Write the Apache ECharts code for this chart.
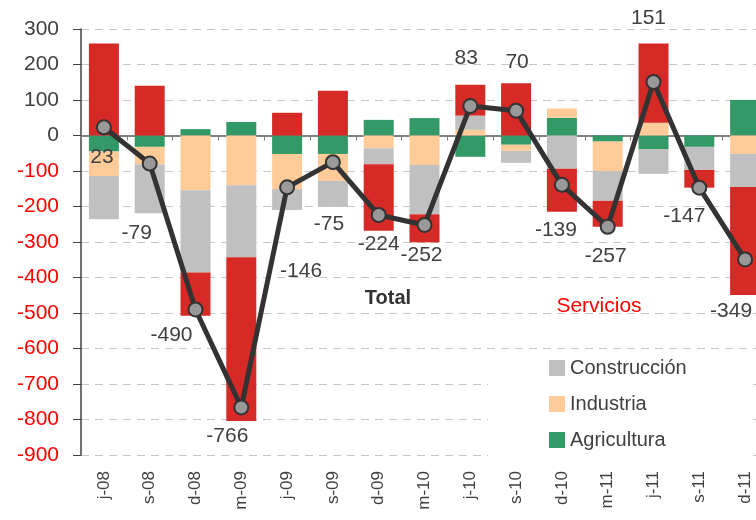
<!DOCTYPE html>
<html>
<head>
<meta charset="utf-8">
<script src="https://cdn.jsdelivr.net/npm/echarts@6/dist/echarts.min.js"></script>
<style>
  html, body { margin: 0; padding: 0; background: #fff; }
  #chart { width: 756px; height: 520px; }
</style>
</head>
<body>
<div id="chart"></div>
<script>
// categorias (trimestres)
var categories = ['j-08', 's-08', 'd-08', 'm-09', 'j-09', 's-09', 'd-09', 'm-10', 'j-10', 's-10', 'd-10', 'm-11', 'j-11', 's-11', 'd-11'];

// variacion por sector
var agricultura  = [-45, -32,   18,   38,  -52,  -52,   44,   49,  -60, -26,   50,  -17,   -38, -32,  100];
var industria    = [-69, -50, -154, -140,  -99,  -76,  -36,  -83,   16, -17,   26,  -83,    36,   0,  -52];
var construccion = [-122, -137, -232, -203, -59, -73,  -45, -139,   40, -34,  -94,  -84,   -70, -65,  -93];
var servicios    = [259, 140, -122, -461,   64,  126, -187,  -79,   87, 147, -121,  -73,   223, -50, -304];

// total
var totales = [23, -79, -490, -766, -146, -75, -224, -252, 83, 70, -139, -257, 151, -147, -349];

// desplazamiento de las etiquetas del total
var labelOffsets = [[-2, 30], [-13, 70], [-24, 26], [-14, 29], [14, 84], [-4, 62], [0, 29], [-3, 30],
                    [-4, -48], [1, -48], [-6, 45], [-2, 29], [-5, -64], [-15, 29], [-14, 52]];

var yMin = -900, yMax = 300, yStep = 100;

var chart = echarts.init(document.getElementById('chart'));

function barSerie(name, data, color) {
    return {
        name: name,
        type: 'bar',
        stack: 'total',
        barWidth: 30,
        data: data,
        itemStyle: { color: color },
        z: 2
    };
}

var option = {
    animation: false,
    textStyle: { fontFamily: 'Liberation Sans, Arial, sans-serif' },
    grid: { left: 81, width: 687, top: 29, height: 426, outerBoundsMode: 'none' },
    legend: {
        data: ['Construcción', 'Industria', 'Agricultura'],
        orient: 'vertical',
        left: 488,
        top: 350,
        padding: [8, 60, 12, 61],
        backgroundColor: '#fff',
        itemWidth: 16,
        itemHeight: 16,
        itemGap: 16,
        icon: 'rect',
        textStyle: { fontSize: 20, color: '#404040' }
    },
    xAxis: [
        {
            type: 'category',
            data: categories,
            position: 'bottom',
            axisLine: { show: false, onZero: false },
            axisTick: { show: false },
            axisLabel: { rotate: 90, fontSize: 17, color: '#404040', margin: 16 }
        },
        {
            type: 'category',
            data: categories,
            position: 'bottom',
            axisLine: { onZero: true, lineStyle: { color: '#808080', width: 2 } },
            axisTick: { show: true, length: 5, lineStyle: { color: '#808080' } },
            axisLabel: { show: false }
        }
    ],
    yAxis: {
        type: 'value',
        min: yMin,
        max: yMax,
        interval: yStep,
        axisLine: { show: true, lineStyle: { color: '#404040', width: 1.5 } },
        axisTick: { show: true, length: 8, lineStyle: { color: '#404040' } },
        axisLabel: {
            fontSize: 21,
            margin: 22,
            color: function (v) { return Number(v) < 0 ? '#ff0000' : '#404040'; }
        },
        splitLine: { lineStyle: { color: '#c8c8c8', type: [8, 6] } }
    },
    graphic: [
        { type: 'text', x: 388, y: 298, z: 10,
          style: { text: 'Total', font: 'bold 20px Liberation Sans, Arial', fill: '#333', textAlign: 'center', textVerticalAlign: 'middle' } },
        { type: 'text', x: 599, y: 306, z: 10,
          style: { text: 'Servicios', font: '21px Liberation Sans, Arial', fill: '#ff0000', textAlign: 'center', textVerticalAlign: 'middle' } }
    ],
    series: [
        barSerie('Agricultura', agricultura, '#339966'),
        barSerie('Industria', industria, '#ffcc99'),
        barSerie('Construcción', construccion, '#c0c0c0'),
        barSerie('Servicios', servicios, '#d62a26'),
        {
            name: 'Total',
            type: 'line',
            data: totales.map(function (v, i) {
                return { value: v, label: { offset: labelOffsets[i] } };
            }),
            symbol: 'circle',
            symbolSize: 14,
            lineStyle: { color: '#333', width: 5 },
            itemStyle: { color: '#999', borderColor: '#333', borderWidth: 2 },
            label: { show: true, position: 'inside', fontSize: 21, color: '#404040' },
            z: 5
        }
    ]
};

chart.setOption(option);
</script>
</body>
</html>
